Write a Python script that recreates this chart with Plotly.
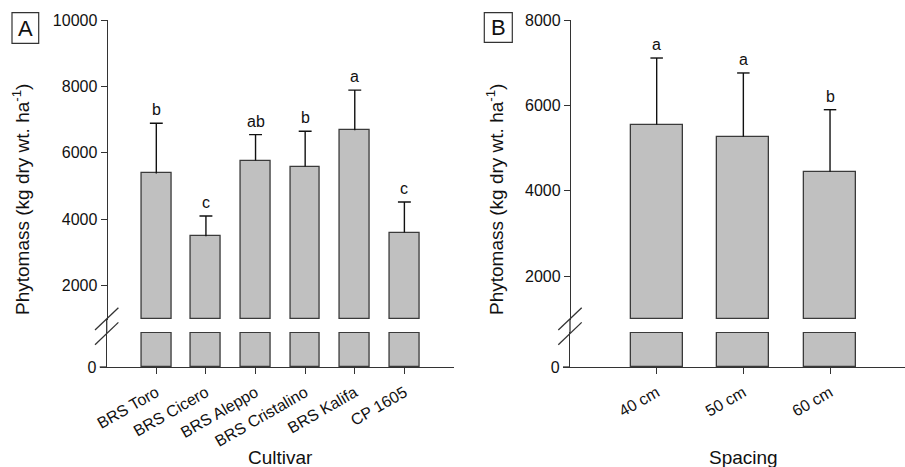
import plotly.graph_objects as go

W, H = 905, 467

# ---- data ----
cultivars = ["BRS Toro", "BRS Cicero", "BRS Aleppo", "BRS Cristalino", "BRS Kalifa", "CP 1605"]
cult_mean = [5380, 3490, 5770, 5590, 6680, 3600]
cult_err = [1510, 610, 780, 1060, 1210, 920]
cult_letters = ["b", "c", "ab", "b", "a", "c"]

spacing = ["40 cm", "50 cm", "60 cm"]
sp_mean = [5550, 5270, 4450]
sp_err = [1560, 1490, 1450]
sp_letters = ["a", "a", "b"]

ticks_A = [2000, 4000, 6000, 8000, 10000]
ticks_B = [2000, 4000, 6000, 8000]
BREAK = 1000

FONT = "Liberation Sans, Arial, sans-serif"
FILL = "#c0c0c0"
EDGE = "#3a3a3a"
AX = "#333333"
INK = "#111111"


def px(x):
    return x / W


def py(y):
    return 1 - y / H


fig = go.Figure()


def add_panel(xref, ylo, yup, cats, means, errs, letters, cap_half):
    pos = list(range(len(cats)))
    low_vals = [min(v, BREAK) for v in means]
    up_vals = [v - BREAK for v in means]
    fig.add_trace(go.Bar(x=pos, y=low_vals, xaxis=xref, yaxis=ylo, width=0.6,
                         marker=dict(color=FILL, line=dict(color=EDGE, width=1.3)),
                         showlegend=False, hoverinfo="skip"))
    fig.add_trace(go.Bar(x=pos, y=up_vals, base=[BREAK] * len(cats), xaxis=xref, yaxis=yup,
                         width=0.6, marker=dict(color=FILL, line=dict(color=EDGE, width=1.3)),
                         showlegend=False, hoverinfo="skip"))
    # whiskers (upper only) with caps
    xs, ys = [], []
    for i, m, e in zip(pos, means, errs):
        xs += [i, i, None, i - cap_half, i + cap_half, None]
        ys += [m, m + e, None, m + e, m + e, None]
    fig.add_trace(go.Scatter(x=xs, y=ys, xaxis=xref, yaxis=yup, mode="lines",
                             line=dict(color=INK, width=1.4), showlegend=False,
                             hoverinfo="skip", cliponaxis=False))
    for i, m, e, t in zip(pos, means, errs, letters):
        fig.add_annotation(x=i, y=m + e, xref=xref, yref=yup, text=t, showarrow=False,
                           xanchor="center", yanchor="bottom", yshift=3,
                           font=dict(family=FONT, size=16, color=INK))


add_panel("x", "y", "y2", cultivars, cult_mean, cult_err, cult_letters, 0.13)
add_panel("x2", "y3", "y4", spacing, sp_mean, sp_err, sp_letters, 0.072)

axis_common = dict(showline=True, linecolor=AX, linewidth=1.3, ticks="outside",
                   ticklen=6, tickcolor=AX, tickwidth=1.3, showgrid=False, zeroline=False,
                   automargin=False, tickformat="d",
                   tickfont=dict(family=FONT, size=16, color=INK))

xA0, xA1 = 106.7, 454
xB0 = 570
fig.update_layout(
    xaxis=dict(domain=[px(xA0), px(xA1)], range=[-1, 6], anchor="y", tickangle=-30,
               tickvals=list(range(len(cultivars))), ticktext=cultivars,
               ticklabelstandoff=3, **axis_common),
    yaxis=dict(domain=[py(367), py(332)], range=[0, 1030], anchor="x", tickvals=[0],
               **axis_common),
    yaxis2=dict(domain=[py(320), py(20)], range=[1000 - 30.1, 10000], anchor="free",
                position=px(xA0), tickvals=ticks_A, **axis_common),
    xaxis2=dict(domain=[px(xB0), 1.0], range=[-1, 2.865], anchor="y3", tickangle=-30,
                tickvals=list(range(len(spacing))), ticktext=spacing,
                ticklabelstandoff=3, **axis_common),
    yaxis3=dict(domain=[py(367), py(332)], range=[0, 1030], anchor="x2", tickvals=[0],
                **axis_common),
    yaxis4=dict(domain=[py(320), py(20)], range=[1000 - 23.4, 8000], anchor="free",
                position=px(xB0), tickvals=ticks_B, **axis_common),
)

shapes = []
for xa in (xA0, xB0):
    # axis line continuing through the gap
    shapes.append(dict(type="line", xref="paper", yref="paper", x0=px(xa), x1=px(xa),
                       y0=py(333), y1=py(319), line=dict(color=AX, width=1.3)))
    # break marks
    for y0 in (330, 344.7):
        shapes.append(dict(type="line", xref="paper", yref="paper",
                           x0=px(xa - 11.7), y0=py(y0), x1=px(xa + 11.7), y1=py(y0 - 22.3),
                           line=dict(color=AX, width=1.3)))
    # x-axis line extending under the 0 tick
    shapes.append(dict(type="line", xref="paper", yref="paper", x0=px(xa - 7), x1=px(xa),
                       y0=py(367), y1=py(367), line=dict(color=AX, width=1.3)))
# panel letter boxes
for (x0, x1, y0, y1) in ((12, 38.7, 12.7, 43.3), (484.3, 512.3, 12.7, 42.3)):
    shapes.append(dict(type="rect", xref="paper", yref="paper", x0=px(x0), x1=px(x1),
                       y0=py(y1), y1=py(y0), line=dict(color=AX, width=1.2),
                       fillcolor="rgba(0,0,0,0)"))
fig.update_layout(shapes=shapes)


def label(text, xc, yc, size, angle=0):
    fig.add_annotation(x=px(xc), y=py(yc), xref="paper", yref="paper", text=text,
                       textangle=angle, showarrow=False, xanchor="center", yanchor="middle",
                       font=dict(family=FONT, size=size, color=INK))


label("A", 25.3, 28, 22)
label("B", 498.3, 27.5, 22)
ytitle = "Phytomass (kg dry wt. ha<sup>-1</sup>)"
label(ytitle, 21, 200, 19, -90)
label(ytitle, 495, 200, 19, -90)
label("Cultivar", 280, 457, 19)
label("Spacing", 743, 457, 19)

fig.update_layout(width=W, height=H, margin=dict(l=0, r=0, t=0, b=0, autoexpand=False),
                  paper_bgcolor="white", plot_bgcolor="white", bargap=0,
                  font=dict(family=FONT))

fig.write_html("out.html", config={"displayModeBar": False},
               post_script="document.body.style.margin='0';")
